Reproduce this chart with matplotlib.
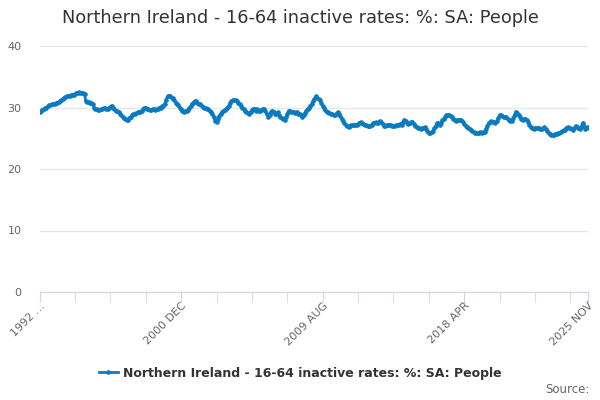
import matplotlib
matplotlib.use("Agg")
import matplotlib.pyplot as plt
from matplotlib.lines import Line2D

# monthly values, 1992 APR .. 2025 NOV
rates = [
    29.3, 29.4, 29.6, 29.8, 29.9, 30.0, 30.2, 30.4, 30.4, 30.5, 30.5, 30.6,
    30.7, 30.8, 30.9, 31.0, 31.2, 31.4, 31.6, 31.7, 31.8, 31.8, 31.9, 32.0,
    32.0, 32.1, 32.2, 32.3, 32.4, 32.5, 32.4, 32.3, 32.3, 32.2, 31.0, 30.9,
    30.9, 30.8, 30.8, 30.5, 30.0, 29.8, 29.7, 29.6, 29.6, 29.7, 29.8, 29.9,
    29.9, 29.8, 29.7, 29.9, 30.1, 30.3, 30.0, 29.7, 29.5, 29.4, 29.2, 29.0,
    28.8, 28.5, 28.3, 28.1, 27.9, 28.0, 28.3, 28.5, 28.7, 28.9, 29.0, 29.1,
    29.2, 29.3, 29.3, 29.5, 29.7, 29.9, 30.0, 29.8, 29.7, 29.6, 29.6, 29.7,
    29.7, 29.6, 29.7, 29.8, 30.0, 30.0, 30.2, 30.3, 30.6, 31.3, 31.8, 31.9,
    31.8, 31.6, 31.5, 31.2, 30.8, 30.6, 30.4, 30.0, 29.7, 29.5, 29.3, 29.4,
    29.5, 29.6, 29.9, 30.2, 30.6, 30.8, 31.0, 31.0, 30.8, 30.6, 30.5, 30.3,
    30.1, 30.0, 29.9, 29.8, 29.7, 29.5, 29.3, 29.0, 28.5, 27.8, 27.6, 28.2,
    28.6, 29.0, 29.2, 29.4, 29.6, 29.8, 30.0, 30.3, 30.7, 31.0, 31.2, 31.2,
    31.2, 31.1, 30.8, 30.5, 30.2, 29.9, 29.7, 29.5, 29.3, 29.1, 29.0, 29.3,
    29.6, 29.8, 29.8, 29.5, 29.7, 29.4, 29.4, 29.6, 29.8, 29.8, 29.4, 29.0,
    28.5, 28.8, 29.3, 29.5, 29.3, 29.0, 29.0, 29.2, 28.8, 28.5, 28.3, 28.1,
    28.0, 28.4, 29.0, 29.5, 29.4, 29.3, 29.2, 29.2, 29.1, 29.3, 29.0, 29.0,
    28.8, 28.5, 28.7, 29.1, 29.5, 29.8, 30.0, 30.3, 30.6, 31.0, 31.4, 31.8,
    31.6, 31.4, 31.2, 30.7, 30.2, 29.9, 29.6, 29.3, 29.2, 29.1, 29.0, 28.9,
    28.8, 28.8, 29.0, 29.2, 29.0, 28.6, 28.2, 27.8, 27.5, 27.2, 27.0, 26.9,
    27.0, 27.1, 27.2, 27.2, 27.1, 27.2, 27.3, 27.5, 27.6, 27.4, 27.3, 27.2,
    27.1, 27.0, 27.0, 27.0, 27.2, 27.4, 27.5, 27.6, 27.4, 27.5, 27.8, 27.6,
    27.3, 27.0, 27.0, 27.1, 27.2, 27.2, 27.1, 27.0, 27.0, 27.0, 27.1, 27.2,
    27.2, 27.3, 27.2, 27.6, 28.0, 27.8, 27.5, 27.3, 27.4, 27.6, 27.7, 27.3,
    27.0, 26.8, 26.7, 26.6, 26.5, 26.6, 26.7, 26.8, 26.5, 26.1, 25.8, 25.9,
    26.0, 26.2, 26.6, 27.0, 27.4, 27.5, 27.2, 27.5, 27.9, 28.2, 28.5, 28.7,
    28.8, 28.7, 28.6, 28.5, 28.2, 28.0, 27.8, 27.9, 28.0, 28.0, 28.0, 27.7,
    27.3, 27.0, 26.8, 26.7, 26.5, 26.3, 26.2, 26.0, 25.9, 25.8, 25.8, 25.9,
    26.0, 25.9, 26.0, 26.0, 26.5, 27.0, 27.5, 27.6, 27.8, 27.7, 27.6, 27.5,
    27.8, 28.3, 28.8, 28.7, 28.6, 28.5, 28.5, 28.4, 28.2, 28.0, 27.8, 27.8,
    28.3, 28.8, 29.3, 29.1, 28.8, 28.5, 28.2, 28.0, 28.1, 28.2, 28.0, 27.6,
    27.2, 26.9, 26.6, 26.5, 26.6, 26.7, 26.7, 26.6, 26.5, 26.5, 26.6, 26.8,
    26.5, 26.1, 25.8, 25.7, 25.6, 25.5, 25.6, 25.7, 25.7, 25.8, 25.9, 26.0,
    26.1, 26.3, 26.4, 26.6, 26.8, 26.7, 26.6, 26.5, 26.4, 26.6, 27.0, 26.8,
    26.6, 26.5, 26.8, 27.5, 27.0, 26.5, 26.7, 26.8,
]

label_months = [0, 104, 208, 312, 403]
label_texts = ["1992 \u2026", "2000 DEC", "2009 AUG", "2018 APR", "2025 NOV"]
yticks = [0, 10, 20, 30, 40]

title = "Northern Ireland - 16-64 inactive rates: %: SA: People"
color = "#0b7bc1"

fig = plt.figure(figsize=(6, 4), dpi=100)
ax = fig.add_axes([0.066, 0.27, 0.914, 0.615])

x = list(range(len(rates)))
ax.plot(x, rates, color=color, linewidth=2, marker="o", markersize=2.3)

ax.set_xlim(0, len(rates) - 1)
ax.set_ylim(0, 40)
ax.set_yticks(yticks)
ax.grid(axis="y", color="#e6e6e6", linewidth=1)
ax.set_axisbelow(True)

for s in ["top", "right", "left"]:
    ax.spines[s].set_visible(False)
ax.spines["bottom"].set_color("#ccd6eb")

minor = list(range(0, len(rates), 26)) + [len(rates) - 1]
ax.set_xticks(minor, minor=True)
ax.set_xticks(label_months)
ax.set_xticklabels(label_texts, rotation=45, ha="right", rotation_mode="anchor")
ax.tick_params(axis="x", which="both", length=7.2, color="#ccd6eb",
               labelsize=8, labelcolor="#666666", pad=-1)
ax.tick_params(axis="y", length=0, labelsize=8, labelcolor="#666666", pad=13)

fig.text(0.5, 0.955, title, ha="center", va="center", fontsize=12.8, color="#333333")

h = Line2D([], [], color=color, linewidth=2, marker="o", markersize=2.3)
fig.legend([h], [title], loc="center", bbox_to_anchor=(0.5, 0.067), frameon=False,
           prop={"weight": "bold", "size": 9}, labelcolor="#333333",
           handlelength=1.5, handletextpad=0.4)
fig.text(0.982, 0.027, "Source:", ha="right", va="center", fontsize=8.5, color="#666666")

fig.savefig("out.png", dpi=100)
